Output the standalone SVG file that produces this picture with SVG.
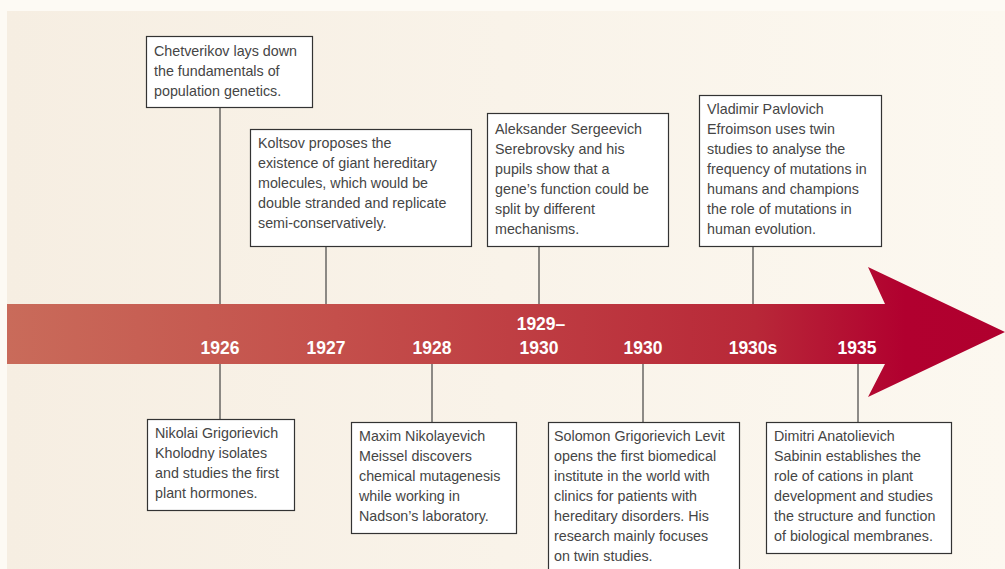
<svg xmlns="http://www.w3.org/2000/svg" width="1005" height="569" viewBox="0 0 1005 569">
<defs>
<linearGradient id="bg" x1="0" y1="0" x2="1" y2="0">
<stop offset="0" stop-color="#f6eee2"/>
<stop offset="1" stop-color="#fcf8f0"/>
</linearGradient>
<linearGradient id="arr" gradientUnits="userSpaceOnUse" x1="7" y1="0" x2="1005" y2="0">
<stop offset="0" stop-color="#c96b5a"/>
<stop offset="0.33" stop-color="#c44f4b"/>
<stop offset="0.75" stop-color="#b82838"/>
<stop offset="0.9" stop-color="#b1002f"/>
<stop offset="1" stop-color="#b0002e"/>
</linearGradient>
<style>
.box rect{fill:#ffffff;stroke:#333;stroke-width:1.2}
.box text{font-family:"Liberation Sans",Arial,sans-serif;font-size:14.3px;fill:#454545}
.yr{font-family:"Liberation Sans",Arial,sans-serif;font-size:17.5px;font-weight:bold;fill:#ffffff;text-anchor:middle}
#connectors line{stroke:#333;stroke-width:1.1}
</style>
</defs>
<rect x="0" y="0" width="1005" height="569" fill="#fdfaf4"/>
<rect x="7" y="11" width="998" height="558" fill="url(#bg)"/>
<path d="M7,304 L885,304 L868,267 L1005,332 L868,397 L885,364 L7,364 Z" fill="url(#arr)"/>
<g id="connectors">
<line x1="220" y1="107" x2="220" y2="304"/>
<line x1="220" y1="364" x2="220" y2="419"/>
<line x1="326" y1="246" x2="326" y2="304"/>
<line x1="432" y1="364" x2="432" y2="422"/>
<line x1="539" y1="246" x2="539" y2="304"/>
<line x1="643" y1="364" x2="643" y2="422"/>
<line x1="753" y1="246" x2="753" y2="304"/>
<line x1="858" y1="364" x2="858" y2="422"/>
</g>
<g id="years">
<text class="yr" x="220" y="354">1926</text>
<text class="yr" x="326" y="354">1927</text>
<text class="yr" x="432" y="354">1928</text>
<text class="yr" x="541" y="330">1929–</text>
<text class="yr" x="539" y="354">1930</text>
<text class="yr" x="643" y="354">1930</text>
<text class="yr" x="753" y="354">1930s</text>
<text class="yr" x="857" y="354">1935</text>
</g>
<g id="n1926a" class="box">
<rect x="146.5" y="36.5" width="166" height="71"/>
<text x="154" y="56">Chetverikov lays down</text>
<text x="154" y="76">the fundamentals of</text>
<text x="154" y="96">population genetics.</text>
</g>
<g id="n1927" class="box">
<rect x="250.5" y="129.5" width="221" height="117"/>
<text x="258" y="148">Koltsov proposes the</text>
<text x="258" y="168">existence of giant hereditary</text>
<text x="258" y="188">molecules, which would be</text>
<text x="258" y="208">double stranded and replicate</text>
<text x="258" y="228">semi-conservatively.</text>
</g>
<g id="n1929" class="box">
<rect x="487.5" y="113.5" width="181" height="133"/>
<text x="495" y="134">Aleksander Sergeevich</text>
<text x="495" y="154">Serebrovsky and his</text>
<text x="495" y="174">pupils show that a</text>
<text x="495" y="194">gene’s function could be</text>
<text x="495" y="214">split by different</text>
<text x="495" y="234">mechanisms.</text>
</g>
<g id="n1930s" class="box">
<rect x="699.5" y="95.5" width="182" height="151"/>
<text x="707" y="114">Vladimir Pavlovich</text>
<text x="707" y="134">Efroimson uses twin</text>
<text x="707" y="154">studies to analyse the</text>
<text x="707" y="174">frequency of mutations in</text>
<text x="707" y="194">humans and champions</text>
<text x="707" y="214">the role of mutations in</text>
<text x="707" y="234">human evolution.</text>
</g>
<g id="n1926b" class="box">
<rect x="147.5" y="419.5" width="147" height="91"/>
<text x="155" y="438">Nikolai Grigorievich</text>
<text x="155" y="458">Kholodny isolates</text>
<text x="155" y="478">and studies the first</text>
<text x="155" y="498">plant hormones.</text>
</g>
<g id="n1928" class="box">
<rect x="351.5" y="422.5" width="165" height="111"/>
<text x="359" y="441">Maxim Nikolayevich</text>
<text x="359" y="461">Meissel discovers</text>
<text x="359" y="481">chemical mutagenesis</text>
<text x="359" y="501">while working in</text>
<text x="359" y="521">Nadson’s laboratory.</text>
</g>
<g id="n1930" class="box">
<rect x="548.5" y="422.5" width="191" height="160"/>
<text x="554" y="441">Solomon Grigorievich Levit</text>
<text x="554" y="461">opens the first biomedical</text>
<text x="554" y="481">institute in the world with</text>
<text x="554" y="501">clinics for patients with</text>
<text x="554" y="521">hereditary disorders. His</text>
<text x="554" y="541">research mainly focuses</text>
<text x="554" y="561">on twin studies.</text>
</g>
<g id="n1935" class="box">
<rect x="766.5" y="422.5" width="185" height="131"/>
<text x="774" y="441">Dimitri Anatolievich</text>
<text x="774" y="461">Sabinin establishes the</text>
<text x="774" y="481">role of cations in plant</text>
<text x="774" y="501">development and studies</text>
<text x="774" y="521">the structure and function</text>
<text x="774" y="541">of biological membranes.</text>
</g>
</svg>
